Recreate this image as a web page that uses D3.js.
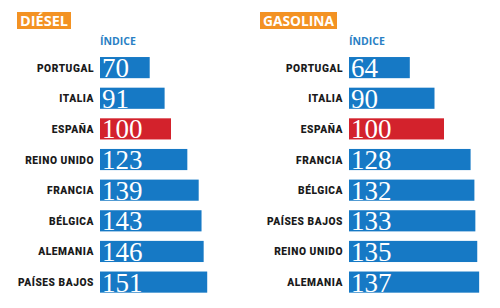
<!DOCTYPE html>
<html>
<head>
<meta charset="utf-8">
<script src="https://cdn.jsdelivr.net/npm/d3@7"></script>
<style>
  body { margin: 0; background: #fff; }
  svg { display: block; }
  .title { font-family: "Open Sans", "DejaVu Sans", sans-serif; font-weight: 700; fill: #fff; }
  .indice { font-family: "Open Sans", sans-serif; font-weight: 700; fill: #2a7fc4; font-size: 10.5px; }
  .cat { font-family: Roboto, "Open Sans", sans-serif; font-weight: 900; font-size: 10.2px; letter-spacing: 0.55px; fill: #1a1a1a; }
  .val { font-family: "Liberation Serif", serif; font-size: 27px; fill: #fff; }
</style>
</head>
<body>
<div id="chart"></div>
<script>
// Diésel
const dieselCountries = ["PORTUGAL", "ITALIA", "ESPAÑA", "REINO UNIDO", "FRANCIA", "BÉLGICA", "ALEMANIA", "PAÍSES BAJOS"];
const dieselValues = [70, 91, 100, 123, 139, 143, 146, 151];
// Gasolina
const gasCountries = ["PORTUGAL", "ITALIA", "ESPAÑA", "FRANCIA", "BÉLGICA", "PAÍSES BAJOS", "REINO UNIDO", "ALEMANIA"];
const gasValues = [64, 90, 100, 128, 132, 133, 135, 137];

const W = 500, H = 308;
const blue = "#1679c5", red = "#d3222c", orange = "#f39223";

const svg = d3.select("#chart").append("svg")
    .attr("width", W)
    .attr("height", H);

function panel(title, countries, values, opts) {
    const g = svg.append("g");

    // title box
    g.append("rect")
        .attr("x", opts.titleX).attr("y", 12)
        .attr("width", opts.titleW).attr("height", 17)
        .attr("fill", orange);
    g.append("text")
        .attr("class", "title")
        .attr("x", opts.titleX + 3).attr("y", 26)
        .attr("font-size", 14)
        .attr("textLength", opts.titleW - 6)
        .attr("lengthAdjust", "spacingAndGlyphs")
        .text(title);

    g.append("text")
        .attr("class", "indice")
        .attr("x", opts.x0).attr("y", 44.5)
        .text("ÍNDICE");

    const x = d3.scaleLinear().domain([0, 100]).range([opts.x0, opts.x0 + opts.w100]);
    const y = d3.scaleBand().domain(countries).range([55.5, 294.2]).paddingInner(0.31).paddingOuter(0.05);

    const rows = g.selectAll("g.row")
        .data(countries.map((c, i) => ({ c, v: values[i] })))
        .join("g")
        .attr("class", "row");

    rows.append("rect")
        .attr("x", x(0))
        .attr("y", d => y(d.c))
        .attr("width", d => x(d.v) - x(0))
        .attr("height", y.bandwidth())
        .attr("fill", d => d.c === "ESPAÑA" ? red : blue);

    rows.append("text")
        .attr("class", "cat")
        .attr("x", x(0) - 6)
        .attr("y", d => y(d.c) + y.bandwidth() / 2 + 4)
        .attr("text-anchor", "end")
        .text(d => d.c);

    rows.append("text")
        .attr("class", "val")
        .attr("x", x(0) + 2)
        .attr("y", d => y(d.c) + y.bandwidth() - 1)
        .text(d => d.v);
}

panel("DIÉSEL", dieselCountries, dieselValues, { titleX: 17, titleW: 54, x0: 100, w100: 71 });
panel("GASOLINA", gasCountries, gasValues, { titleX: 260, titleW: 77, x0: 349, w100: 95 });
</script>
</body>
</html>
